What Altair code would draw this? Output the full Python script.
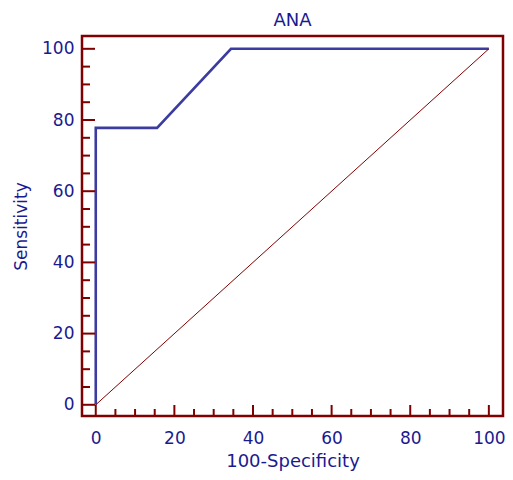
import altair as alt
import pandas as pd

# ROC curve points (100-Specificity, Sensitivity)
fpr = [0, 0, 15.6, 34.4, 100]
tpr = [0, 77.8, 77.8, 100, 100]
# reference diagonal
diag_x = [0, 100]
diag_y = [0, 100]
# tick positions
major_ticks = [0, 20, 40, 60, 80, 100]
minor_ticks = [5, 10, 15, 25, 30, 35, 45, 50, 55, 65, 70, 75, 85, 90, 95]

W, H = 421, 380
FRAME = "#7f0000"
NAVY = "#1a1a90"
ROC = "#3c3ca0"
FONT = "DejaVu Sans"

xs = alt.Scale(domain=[-3.5, 103.6], nice=False, zero=False)
ys = alt.Scale(domain=[-3.15, 103.6], nice=False, zero=False)

x_axis = alt.Axis(
    values=major_ticks, title="100-Specificity", ticks=False, domain=False, grid=False,
    labelPadding=14, labelFontSize=17, labelColor=NAVY, labelFont=FONT,
    titleFontSize=18, titleFont=FONT, titleColor=NAVY, titleFontWeight="normal", titlePadding=6)
y_axis = alt.Axis(
    values=major_ticks, title="Sensitivity", ticks=False, domain=False, grid=False,
    labelPadding=8, labelFontSize=17, labelColor=NAVY, labelFont=FONT,
    titleFontSize=17, titleFont=FONT, titleColor=NAVY, titleFontWeight="normal", titlePadding=11)

roc_df = pd.DataFrame({"x": fpr, "y": tpr, "o": list(range(len(fpr)))})
diag_df = pd.DataFrame({"x": diag_x, "y": diag_y})
maj_df = pd.DataFrame({"t": major_ticks})
min_df = pd.DataFrame({"t": minor_ticks})

roc = alt.Chart(roc_df).mark_line(color=ROC, strokeWidth=2.6).encode(
    x=alt.X("x:Q", scale=xs, axis=x_axis),
    y=alt.Y("y:Q", scale=ys, axis=y_axis),
    order="o:Q",
)

diag = alt.Chart(diag_df).mark_line(color=FRAME, strokeWidth=1).encode(
    x=alt.X("x:Q", scale=xs, axis=x_axis), y=alt.Y("y:Q", scale=ys, axis=y_axis))

x_major = alt.Chart(maj_df).mark_rule(color=FRAME, strokeWidth=2).encode(
    x=alt.X("t:Q", scale=xs, axis=x_axis), y=alt.value(H), y2=alt.value(H - 11))
x_minor = alt.Chart(min_df).mark_rule(color=FRAME, strokeWidth=2).encode(
    x=alt.X("t:Q", scale=xs, axis=x_axis), y=alt.value(H), y2=alt.value(H - 7))
y_major = alt.Chart(maj_df).mark_rule(color=FRAME, strokeWidth=2).encode(
    y=alt.Y("t:Q", scale=ys, axis=y_axis), x=alt.value(0), x2=alt.value(13))
y_minor = alt.Chart(min_df).mark_rule(color=FRAME, strokeWidth=2).encode(
    y=alt.Y("t:Q", scale=ys, axis=y_axis), x=alt.value(0), x2=alt.value(8))

chart = alt.layer(roc, diag, x_major, x_minor, y_major, y_minor).properties(
    width=W, height=H,
    title=alt.TitleParams("ANA", fontSize=18, font=FONT, color=NAVY, fontWeight="normal",
                          anchor="middle", offset=6),
    autosize=alt.AutoSizeParams(type="none"),
    padding={"left": 74, "top": 28, "right": 2, "bottom": 55},
).configure(background="white").configure_view(stroke=FRAME, strokeWidth=2.5)

chart.save("out.html", embed_options={"renderer": "svg", "actions": False})
